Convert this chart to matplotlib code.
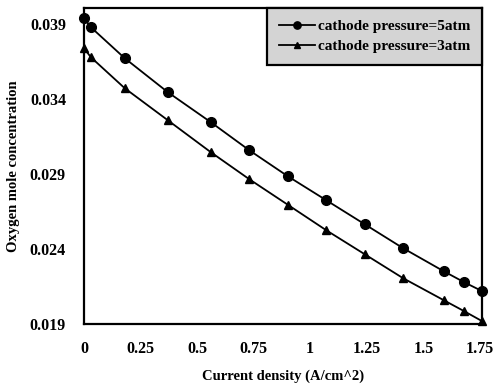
import matplotlib
matplotlib.use("Agg")
import matplotlib.pyplot as plt

# current density (A/cm^2)
current = [0, 0.03, 0.18, 0.37, 0.56, 0.73, 0.90, 1.07, 1.24, 1.41, 1.59, 1.68, 1.76]
# oxygen mole concentration
conc_5atm = [0.0394, 0.0388, 0.03673, 0.03447, 0.03247, 0.0306, 0.02887,
             0.02727, 0.02567, 0.02407, 0.02253, 0.0218, 0.0212]
conc_3atm = [0.0374, 0.0368, 0.03473, 0.0326, 0.03047, 0.02867, 0.02697,
             0.02527, 0.02367, 0.02207, 0.0206, 0.01987, 0.0192]

xticks = [0, 0.25, 0.5, 0.75, 1, 1.25, 1.5, 1.75]
xtick_labels = ["0", "0.25", "0.5", "0.75", "1", "1.25", "1.5", "1.75"]
yticks = [0.019, 0.024, 0.029, 0.034, 0.039]
ytick_labels = ["0.019", "0.024", "0.029", "0.034", "0.039"]

plt.rcParams['font.family'] = ['Liberation Serif', 'DejaVu Serif']
plt.rcParams['font.weight'] = 'bold'

fig = plt.figure(figsize=(4.94, 3.85), dpi=100)
ax = fig.add_axes([0.170, 0.158, 0.806, 0.821])

ax.plot(current, conc_5atm, color='black', lw=1.3, marker='o', ms=7,
        label="cathode pressure=5atm", clip_on=False, zorder=3)
ax.plot(current, conc_3atm, color='black', lw=1.3, marker='^', ms=6,
        label="cathode pressure=3atm", clip_on=False, zorder=3)

ax.set_xlim(0, 1.76)
ax.set_ylim(0.019, 0.04007)
ax.set_xticks(xticks)
ax.set_xticklabels(xtick_labels, fontsize=11.5, fontweight='bold')
ax.set_yticks(yticks)
ax.set_yticklabels(ytick_labels, fontsize=11.5, fontweight='bold')
ax.tick_params(length=0)
ax.tick_params(axis='x', pad=12)
ax.tick_params(axis='y', pad=13)

for s in ax.spines.values():
    s.set_linewidth(1.6)

ax.set_xlabel("Current density (A/cm^2)", fontsize=10.5, fontweight='bold', labelpad=9)
ax.set_ylabel("Oxygen mole concentration", fontsize=10.5, fontweight='bold', labelpad=7)

leg = ax.legend(loc='upper right', bbox_to_anchor=(1.0, 1.0), fontsize=11,
                fancybox=False, framealpha=1, borderaxespad=0, handlelength=2.4,
                handletextpad=0.2, labelspacing=0.4, borderpad=0.75,
                markerscale=0.75)
leg.get_frame().set_facecolor('#d4d4d4')
leg.get_frame().set_edgecolor('black')
leg.get_frame().set_linewidth(1.6)
for t in leg.get_texts():
    t.set_fontweight('bold')

fig.savefig("out.png", dpi=100)
